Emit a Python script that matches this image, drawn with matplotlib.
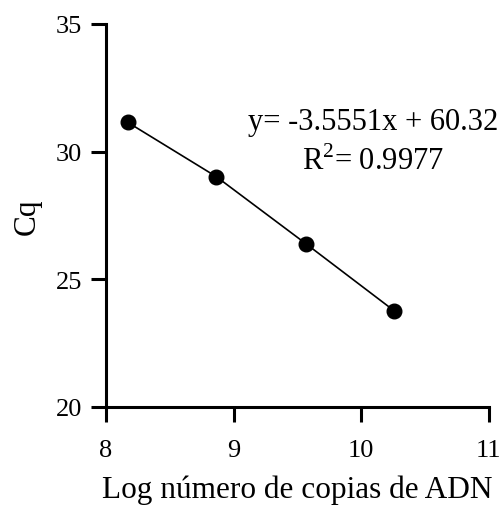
import matplotlib
matplotlib.use("Agg")
import matplotlib.pyplot as plt

log_copies = [8.17, 8.865, 9.568, 10.258]
cq = [31.15, 29.02, 26.39, 23.77]
x_ticks = [8, 9, 10, 11]
y_ticks = [20, 25, 30, 35]
eq_text = "y= -3.5551x + 60.32"
r2_text = "R$^2$= 0.9977"

plt.rcParams['font.family'] = ['Liberation Serif', 'DejaVu Serif']
plt.rcParams['mathtext.fontset'] = 'custom'
plt.rcParams['mathtext.rm'] = 'Liberation Serif'

fig = plt.figure(figsize=(5.03, 5.10), dpi=100)
ax = fig.add_axes([0.2107, 0.2, 0.761, 0.751])
ax.plot(log_copies, cq, color='black', lw=1.2, marker='o', ms=10.5,
        markerfacecolor='black', markeredgecolor='black', clip_on=False)
ax.set_xlim(8, 11)
ax.set_ylim(20, 35)
ax.set_xticks(x_ticks)
ax.set_yticks(y_ticks)
for s in ['top', 'right']:
    ax.spines[s].set_visible(False)
for s in ['left', 'bottom']:
    ax.spines[s].set_linewidth(2.2)
ax.tick_params(axis='both', which='major', length=11, width=2.2,
               labelsize=19, direction='out', pad=6)
ax.tick_params(axis='x', pad=12)
ax.set_xlabel("Log número de copias de ADN", fontsize=22.5, labelpad=9.5)
ax.set_ylabel("Cq", fontsize=22.5, labelpad=10)
ax.text(10.09, 31.2, eq_text, fontsize=22, ha='center', va='center')
ax.text(10.09, 29.64, r2_text, fontsize=22, ha='center', va='center')
fig.savefig("out.png", dpi=100)
